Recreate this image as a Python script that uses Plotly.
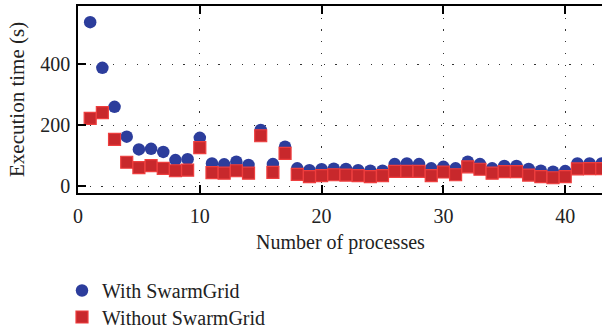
import plotly.graph_objects as go

processes = list(range(1, 44))
with_swarmgrid = [538, 388, 260, 162, 120, 122, 112, 85, 88, 158,
                  74, 71, 80, 69, 184, 72, 129, 58, 52, 55,
                  57, 56, 52, 50, 50, 72, 74, 72, 58, 63,
                  58, 80, 72, 58, 66, 66, 56, 50, 47, 49,
                  74, 74, 74]
without_swarmgrid = [222, 241, 153, 78, 60, 67, 58, 50, 52, 126,
                     44, 42, 50, 42, 165, 45, 107, 38, 31, 34,
                     37, 36, 34, 31, 34, 48, 48, 48, 34, 46,
                     37, 63, 55, 42, 47, 47, 36, 31, 27, 31,
                     56, 57, 57]
series_names = ["With SwarmGrid", "Without SwarmGrid"]
x_ticks = [0, 10, 20, 30, 40]
y_ticks = [0, 200, 400]

BLUE = "#2C3D9C"
RED_FILL = "#C8282C"
RED_LINE = "#EE3E3E"
FONT = "Liberation Serif"
TXT = "#222222"

W, H = 602, 327
ML, MR, MT, MB = 78, 0, 6, 134
PW, PH = W - ML - MR, H - MT - MB


def px_x(p):
    return (p - ML) / PW


def px_y(p):
    return (H - MB - p) / PH


fig = go.Figure()
fig.add_trace(go.Scatter(
    x=processes, y=with_swarmgrid, mode="markers", name=series_names[0],
    marker=dict(symbol="circle", size=12.5, color=BLUE, line=dict(width=0)),
    legend="legend",
))
fig.add_trace(go.Scatter(
    x=processes, y=without_swarmgrid, mode="markers", name=series_names[1],
    marker=dict(symbol="square", size=12, color=RED_FILL,
                line=dict(width=1.2, color=RED_LINE)),
    legend="legend2",
))

grid = dict(showgrid=True, gridcolor="#333333", gridwidth=1.2,
            griddash="1.2px,10.5px", zeroline=False)

fig.update_xaxes(range=[0, 43.02], tickvals=x_ticks, ticks="inside", ticklen=8,
                 tickwidth=1.5, tickcolor="black", showline=True, linecolor="black",
                 linewidth=1.5, mirror="ticks", ticklabelstandoff=4,
                 tickfont=dict(family=FONT, size=20, color=TXT), **grid)
fig.update_yaxes(range=[-23, 591], tickvals=y_ticks, ticks="inside", ticklen=8,
                 tickwidth=1.5, tickcolor="black", showline=True, linecolor="black",
                 linewidth=1.5, mirror=False, ticklabelstandoff=2,
                 tickfont=dict(family=FONT, size=20, color=TXT), **grid)

annotations = [
    dict(text="Number of processes", x=0.5, y=px_y(242), xref="paper",
         yref="paper", showarrow=False, xanchor="center", yanchor="middle",
         font=dict(family=FONT, size=20, color=TXT)),
    dict(text="Execution time (s)", x=px_x(17), y=px_y(100), xref="paper",
         yref="paper", showarrow=False, textangle=-90, xanchor="center",
         yanchor="middle", font=dict(family=FONT, size=21, color=TXT)),
]

legend_common = dict(xanchor="left", yanchor="middle", orientation="v",
                     bgcolor="rgba(0,0,0,0)", itemsizing="trace",
                     font=dict(family=FONT, size=20, color=TXT))

fig.update_layout(width=W, height=H,
                  margin=dict(l=ML, r=MR, t=MT, b=MB, autoexpand=False),
                  plot_bgcolor="white", paper_bgcolor="white",
                  annotations=annotations, showlegend=True,
                  legend=dict(x=px_x(62), y=px_y(290.5), **legend_common),
                  legend2=dict(x=px_x(62), y=px_y(317), **legend_common))

fig.write_html("out.html", config={"displayModeBar": False},
               post_script="document.body.style.margin='0';")
